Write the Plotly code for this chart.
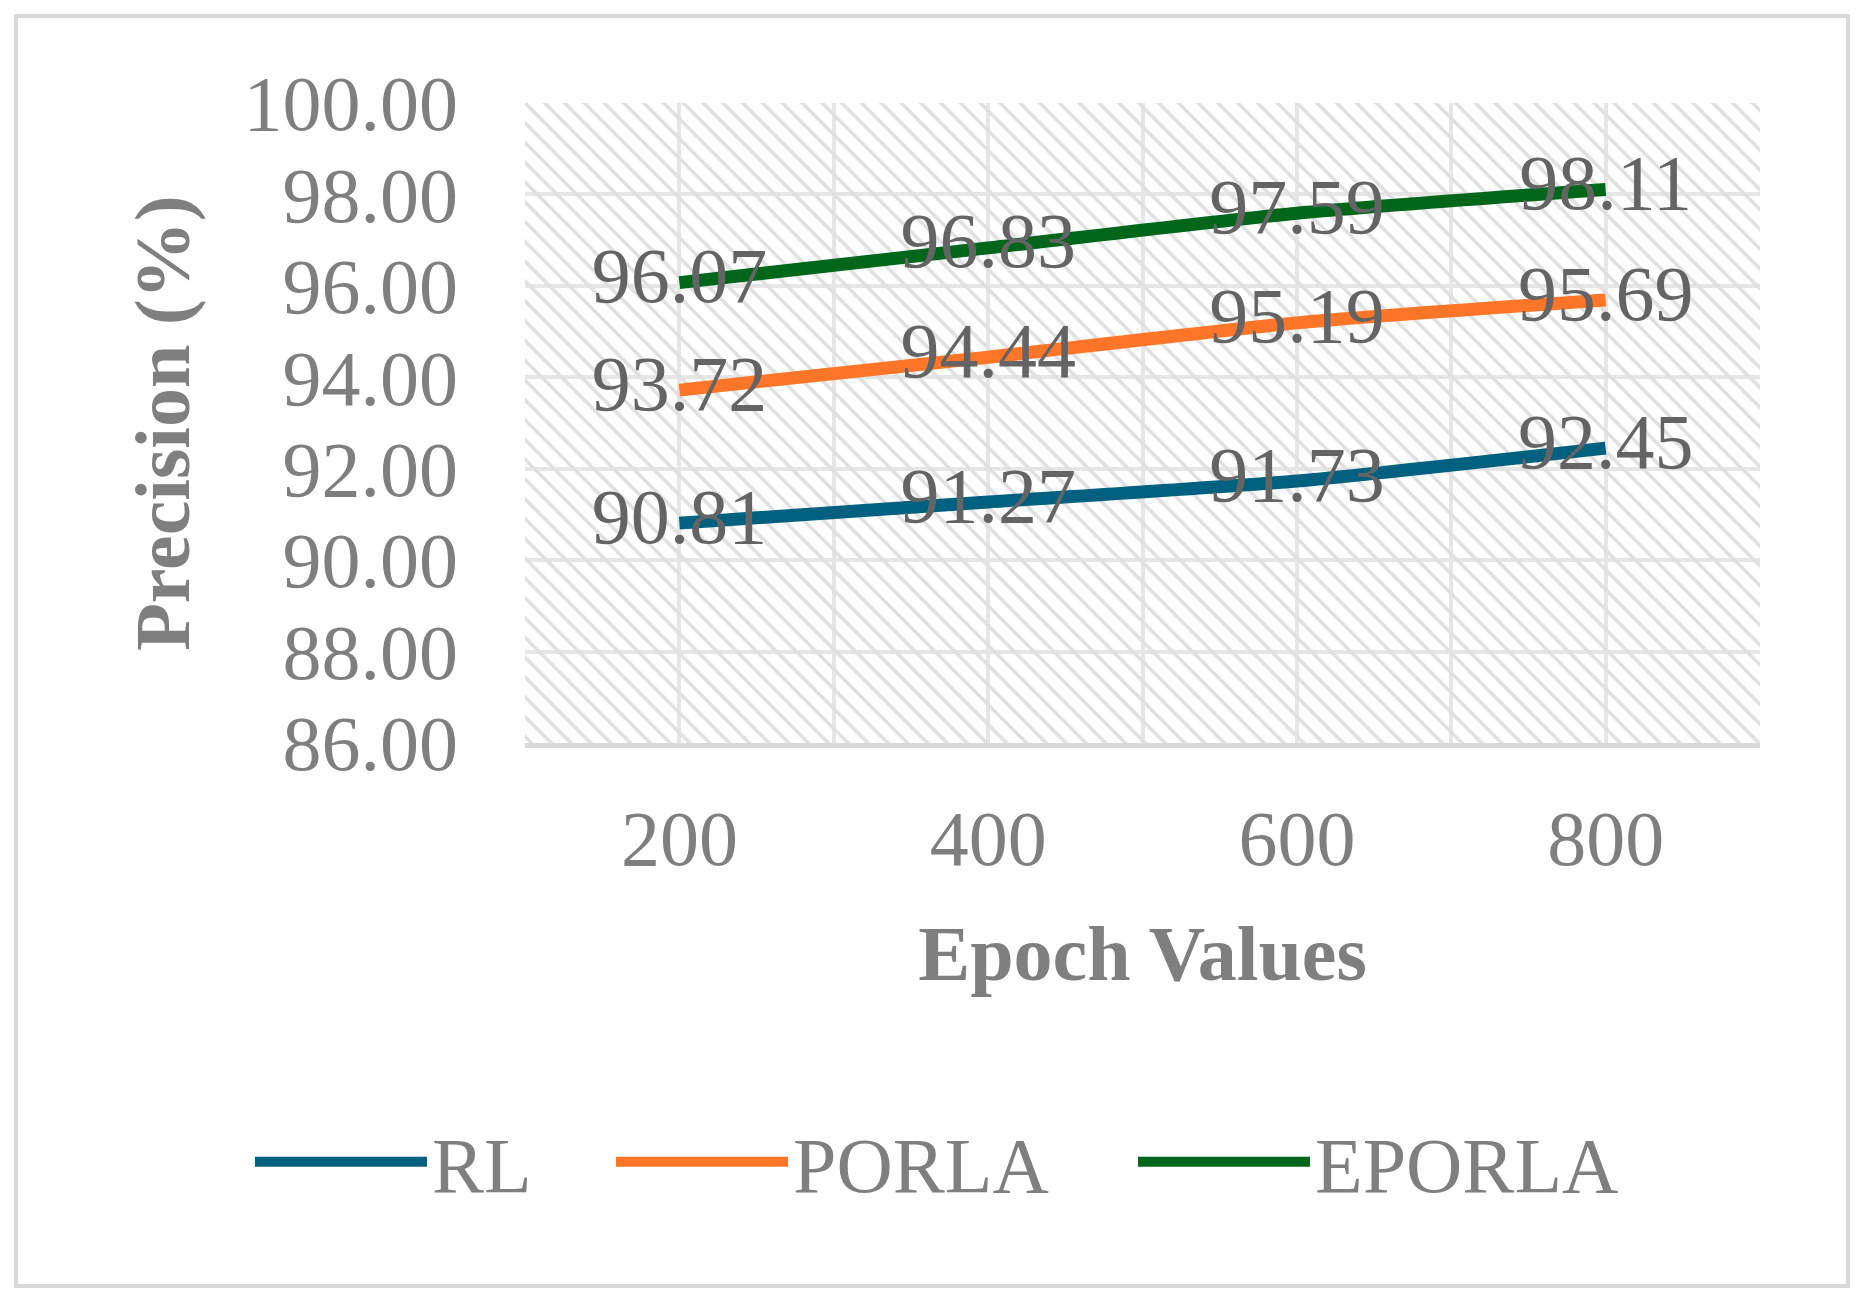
import plotly.graph_objects as go

epochs = [200, 400, 600, 800]
rl = [90.81, 91.27, 91.73, 92.45]
porla = [93.72, 94.44, 95.19, 95.69]
eporla = [96.07, 96.83, 97.59, 98.11]
series_names = ["RL", "PORLA", "EPORLA"]
series_colors = ["#00607f", "#ff7628", "#00661a"]
y_ticks = [86, 88, 90, 92, 94, 96, 98, 100]

X_MIN, X_MAX = 100, 900
Y_MIN, Y_MAX = 86, 100

W, H = 1867, 1306
L, R, T, B = 525, 1760, 103, 743

FONT = "Liberation Serif"
FS = 78
GRAY = "#7f7f7f"
LABEL_GRAY = "#646464"
LEGEND_X = [250, 611, 1133]  # left edge of each legend entry, px
LEGEND_Y = 1162

fig = go.Figure()

# hatched plot-area background
fig.add_trace(go.Bar(
    x=[(X_MIN + X_MAX) / 2], y=[Y_MAX - Y_MIN], base=[Y_MIN], width=[X_MAX - X_MIN],
    marker=dict(color="#e0e0e0", line=dict(width=0),
                pattern=dict(shape="\\", size=14, solidity=0.26, fillmode="replace")),
    showlegend=False, hoverinfo="skip",
))

legend_ids = ["legend", "legend2", "legend3"]
for name, vals, col, lg in zip(series_names, [rl, porla, eporla], series_colors, legend_ids):
    fig.add_trace(go.Scatter(
        x=epochs, y=vals, name=name, mode="lines+text", legend=lg,
        line=dict(color=col, width=13, shape="spline", smoothing=0.6),
        text=[f"{v:.2f}" for v in vals], textposition="middle center",
        textfont=dict(family=FONT, size=FS, color=LABEL_GRAY),
    ))

pw, ph = R - L, B - T
def px(x):
    return (x - L) / pw
def py(y):
    return (B - y) / ph

fig.add_shape(type="rect", xref="paper", yref="paper",
              x0=px(16), x1=px(1848), y0=py(1286), y1=py(16),
              line=dict(color="#d9d9d9", width=4), fillcolor="rgba(0,0,0,0)", layer="below")

legend_layout = {}
for lg, lx in zip(legend_ids, LEGEND_X):
    legend_layout[lg] = dict(
        orientation="h", xref="container", yref="container",
        x=lx / W, xanchor="left", y=1 - LEGEND_Y / H, yanchor="middle",
        itemwidth=172, font=dict(family=FONT, size=FS, color=GRAY),
        bgcolor="rgba(0,0,0,0)",
    )

fig.update_layout(
    width=W, height=H,
    margin=dict(l=L, r=W - R, t=T, b=H - B),
    paper_bgcolor="white", plot_bgcolor="white",
    font=dict(family=FONT, size=FS, color=GRAY),
    barmode="overlay",
    xaxis=dict(
        range=[X_MIN, X_MAX], tickvals=epochs, ticks="",
        showgrid=True, gridcolor="#e6e6e6", gridwidth=4,
        minor=dict(tick0=X_MIN, dtick=200, showgrid=True, gridcolor="#e6e6e6", gridwidth=4),
        showline=True, linecolor="#d9d9d9", linewidth=5,
        zeroline=False, ticklabelstandoff=23,
        tickfont=dict(family=FONT, size=FS, color=GRAY),
        title=dict(text="<b>Epoch Values</b>", standoff=46,
                   font=dict(family=FONT, size=FS, color=GRAY)),
    ),
    yaxis=dict(
        range=[Y_MIN, Y_MAX], tickvals=y_ticks, tickformat=".2f", ticks="",
        showgrid=True, gridcolor="#e6e6e6", gridwidth=4,
        showline=False, zeroline=False, ticklabelstandoff=66,
        tickfont=dict(family=FONT, size=FS, color=GRAY),
        title=dict(text="<b>Precision (%)</b>", standoff=28,
                   font=dict(family=FONT, size=FS, color=GRAY)),
    ),
    **legend_layout,
)

fig.write_html("out.html")
